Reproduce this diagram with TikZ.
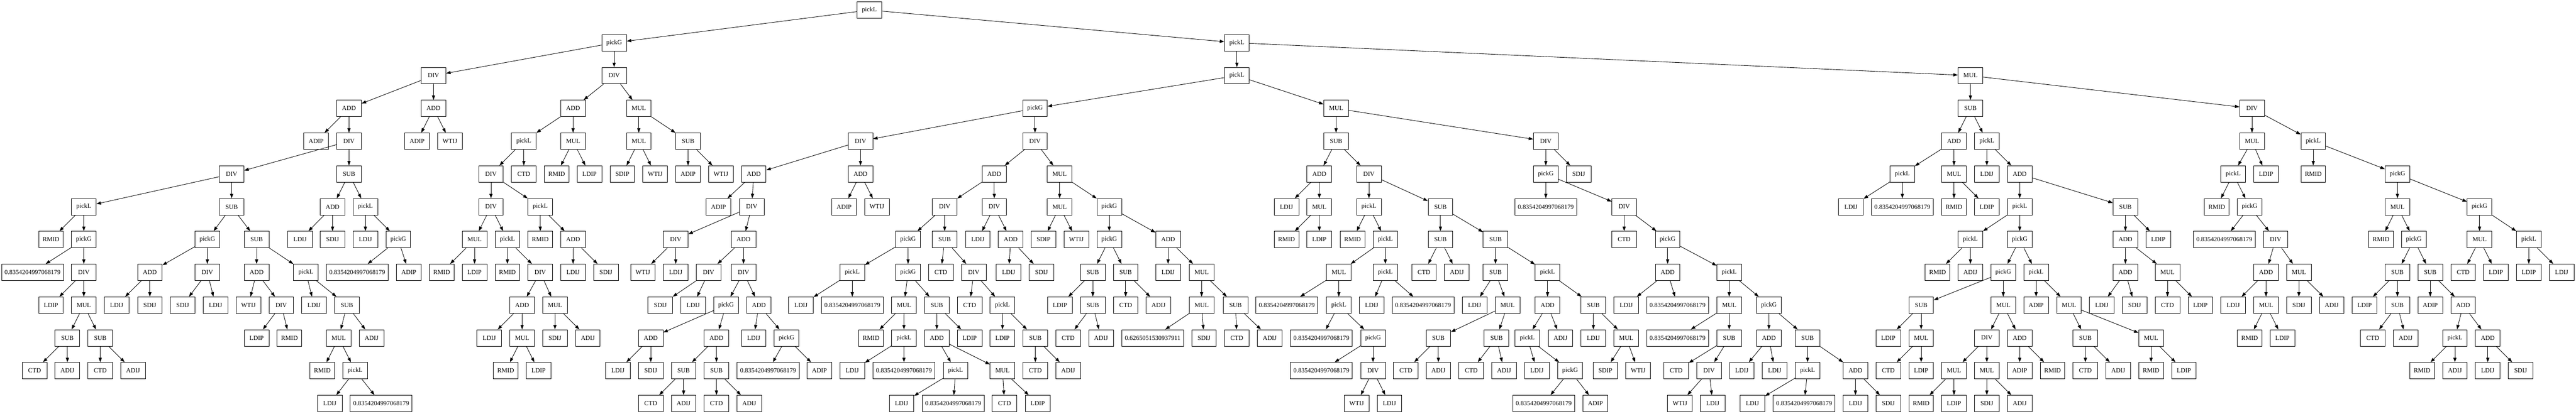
\documentclass[tikz,border=0pt]{standalone}
\usepackage{fontspec}
\setmainfont{Liberation Serif}
\usetikzlibrary{arrows.meta}
\tikzset{
op/.style={draw,rectangle,line width=1pt,minimum width=54pt,minimum height=36pt,inner xsep=6.6pt,inner ysep=0pt,font=\fontsize{14}{16}\selectfont},
arr/.style={-{Triangle[length=10pt,width=7pt]},line width=1pt},
}

\begin{document}
\begin{tikzpicture}[x=0.75pt,y=-72pt]
    \useasboundingbox (0,-0.3056) rectangle (7529,12.3056);

    % level 0 to 3
    \node[op] (n0x2541) at (2541,0) {pickL};
    \node[op] (n1x1795) at (1795,1) {pickG};
    \node[op] (n1x3615) at (3615,1) {pickL};
    \node[op] (n2x1267) at (1267,2) {DIV};
    \node[op] (n2x1795) at (1795,2) {DIV};
    \node[op] (n2x3615) at (3615,2) {pickL};
    \node[op] (n2x5759) at (5759,2) {MUL};
    \node[op] (n3x1020) at (1020,3) {ADD};
    \node[op] (n3x1267) at (1267,3) {ADD};
    \node[op] (n3x1675) at (1675,3) {ADD};
    \node[op] (n3x1867) at (1867,3) {MUL};
    \node[op] (n3x3025) at (3025,3) {pickG};
    \node[op] (n3x3905) at (3905,3) {MUL};
    \node[op] (n3x5759) at (5759,3) {SUB};
    \node[op] (n3x6582) at (6582,3) {DIV};

    % level 4
    \node[op] (n4x924) at (924,4) {ADIP};
    \node[op] (n4x1020) at (1020,4) {DIV};
    \node[op] (n4x1219) at (1219,4) {ADIP};
    \node[op] (n4x1315) at (1315,4) {WTIJ};
    \node[op] (n4x1531) at (1531,4) {pickL};
    \node[op] (n4x1675) at (1675,4) {MUL};
    \node[op] (n4x1867) at (1867,4) {MUL};
    \node[op] (n4x2011) at (2011,4) {SUB};
    \node[op] (n4x2515) at (2515,4) {DIV};
    \node[op] (n4x3025) at (3025,4) {DIV};
    \node[op] (n4x3905) at (3905,4) {SUB};
    \node[op] (n4x4518) at (4518,4) {DIV};
    \node[op] (n4x5711) at (5711,4) {ADD};
    \node[op] (n4x5807) at (5807,4) {pickL};
    \node[op] (n4x6582) at (6582,4) {MUL};
    \node[op] (n4x6761) at (6761,4) {pickL};

    % level 5
    \node[op] (n5x677) at (677,5) {DIV};
    \node[op] (n5x1020) at (1020,5) {SUB};
    \node[op] (n5x1435) at (1435,5) {DIV};
    \node[op] (n5x1531) at (1531,5) {CTD};
    \node[op] (n5x1627) at (1627,5) {RMID};
    \node[op] (n5x1723) at (1723,5) {LDIP};
    \node[op] (n5x1819) at (1819,5) {SDIP};
    \node[op] (n5x1915) at (1915,5) {WTIJ};
    \node[op] (n5x2011) at (2011,5) {ADIP};
    \node[op] (n5x2107) at (2107,5) {WTIJ};
    \node[op] (n5x2203) at (2203,5) {ADD};
    \node[op] (n5x2515) at (2515,5) {ADD};
    \node[op] (n5x2906) at (2906,5) {ADD};
    \node[op] (n5x3097) at (3097,5) {MUL};
    \node[op] (n5x3856) at (3856,5) {ADD};
    \node[op] (n5x4001) at (4001,5) {DIV};
    \node[op] (n5x4518) at (4518,5) {pickG};
    \node[op] (n5x4614) at (4614,5) {SDIJ};
    \node[op] (n5x5560) at (5560,5) {pickL};
    \node[op] (n5x5711) at (5711,5) {MUL};
    \node[op] (n5x5807) at (5807,5) {LDIJ};
    \node[op] (n5x5903) at (5903,5) {ADD};
    \node[op] (n5x6527) at (6527,5) {pickL};
    \node[op] (n5x6623) at (6623,5) {LDIP};
    \node[op] (n5x6761) at (6761,5) {RMID};
    \node[op] (n5x7007) at (7007,5) {pickG};

    % level 6
    \node[op] (n6x245) at (245,6) {pickL};
    \node[op] (n6x677) at (677,6) {SUB};
    \node[op] (n6x972) at (972,6) {ADD};
    \node[op] (n6x1068) at (1068,6) {pickL};
    \node[op] (n6x1435) at (1435,6) {DIV};
    \node[op] (n6x1579) at (1579,6) {pickL};
    \node[op] (n6x2100) at (2100,6) {ADIP};
    \node[op] (n6x2197) at (2197,6) {DIV};
    \node[op] (n6x2467) at (2467,6) {ADIP};
    \node[op] (n6x2563) at (2563,6) {WTIJ};
    \node[op] (n6x2761) at (2761,6) {DIV};
    \node[op] (n6x2906) at (2906,6) {DIV};
    \node[op] (n6x3097) at (3097,6) {MUL};
    \node[op] (n6x3242) at (3242,6) {pickG};
    \node[op] (n6x3760) at (3760,6) {LDIJ};
    \node[op] (n6x3856) at (3856,6) {MUL};
    \node[op] (n6x4001) at (4001,6) {pickL};
    \node[op] (n6x4210) at (4210,6) {SUB};
    \node[op] (n6x4518) at (4518,6) {0.8354204997068179};
    \node[op] (n6x4747) at (4747,6) {DIV};
    \node[op] (n6x5410) at (5410,6) {LDIJ};
    \node[op] (n6x5560) at (5560,6) {0.8354204997068179};
    \node[op] (n6x5711) at (5711,6) {RMID};
    \node[op] (n6x5807) at (5807,6) {LDIP};
    \node[op] (n6x5903) at (5903,6) {pickL};
    \node[op] (n6x6212) at (6212,6) {SUB};
    \node[op] (n6x6479) at (6479,6) {RMID};
    \node[op] (n6x6575) at (6575,6) {pickG};
    \node[op] (n6x7007) at (7007,6) {MUL};
    \node[op] (n6x7247) at (7247,6) {pickG};

    % level 7
    \node[op] (n7x149) at (149,7) {RMID};
    \node[op] (n7x245) at (245,7) {pickG};
    \node[op] (n7x606) at (606,7) {pickG};
    \node[op] (n7x750) at (750,7) {SUB};
    \node[op] (n7x877) at (877,7) {LDIJ};
    \node[op] (n7x972) at (972,7) {SDIJ};
    \node[op] (n7x1068) at (1068,7) {LDIJ};
    \node[op] (n7x1164) at (1164,7) {pickG};
    \node[op] (n7x1387) at (1387,7) {MUL};
    \node[op] (n7x1483) at (1483,7) {pickL};
    \node[op] (n7x1579) at (1579,7) {RMID};
    \node[op] (n7x1675) at (1675,7) {ADD};
    \node[op] (n7x1975) at (1975,7) {DIV};
    \node[op] (n7x2173) at (2173,7) {ADD};
    \node[op] (n7x2654) at (2654,7) {pickG};
    \node[op] (n7x2761) at (2761,7) {SUB};
    \node[op] (n7x2858) at (2858,7) {LDIJ};
    \node[op] (n7x2954) at (2954,7) {ADD};
    \node[op] (n7x3050) at (3050,7) {SDIP};
    \node[op] (n7x3146) at (3146,7) {WTIJ};
    \node[op] (n7x3242) at (3242,7) {pickG};
    \node[op] (n7x3414) at (3414,7) {ADD};
    \node[op] (n7x3760) at (3760,7) {RMID};
    \node[op] (n7x3856) at (3856,7) {LDIP};
    \node[op] (n7x3953) at (3953,7) {RMID};
    \node[op] (n7x4049) at (4049,7) {pickL};
    \node[op] (n7x4210) at (4210,7) {SUB};
    \node[op] (n7x4371) at (4371,7) {SUB};
    \node[op] (n7x4747) at (4747,7) {CTD};
    \node[op] (n7x4874) at (4874,7) {pickG};
    \node[op] (n7x5759) at (5759,7) {pickL};
    \node[op] (n7x5903) at (5903,7) {pickG};
    \node[op] (n7x6212) at (6212,7) {ADD};
    \node[op] (n7x6308) at (6308,7) {LDIP};
    \node[op] (n7x6501) at (6501,7) {0.8354204997068179};
    \node[op] (n7x6651) at (6651,7) {DIV};
    \node[op] (n7x6959) at (6959,7) {RMID};
    \node[op] (n7x7055) at (7055,7) {pickG};
    \node[op] (n7x7247) at (7247,7) {MUL};
    \node[op] (n7x7391) at (7391,7) {pickL};

    % level 8
    \node[op] (n8x95) at (95,8) {0.8354204997068179};
    \node[op] (n8x245) at (245,8) {DIV};
    \node[op] (n8x438) at (438,8) {ADD};
    \node[op] (n8x606) at (606,8) {DIV};
    \node[op] (n8x750) at (750,8) {ADD};
    \node[op] (n8x894) at (894,8) {pickL};
    \node[op] (n8x1044) at (1044,8) {0.8354204997068179};
    \node[op] (n8x1195) at (1195,8) {ADIP};
    \node[op] (n8x1291) at (1291,8) {RMID};
    \node[op] (n8x1387) at (1387,8) {LDIP};
    \node[op] (n8x1483) at (1483,8) {RMID};
    \node[op] (n8x1579) at (1579,8) {DIV};
    \node[op] (n8x1675) at (1675,8) {LDIJ};
    \node[op] (n8x1771) at (1771,8) {SDIJ};
    \node[op] (n8x1879) at (1879,8) {WTIJ};
    \node[op] (n8x1975) at (1975,8) {LDIJ};
    \node[op] (n8x2071) at (2071,8) {DIV};
    \node[op] (n8x2173) at (2173,8) {DIV};
    \node[op] (n8x2491) at (2491,8) {pickL};
    \node[op] (n8x2654) at (2654,8) {pickG};
    \node[op] (n8x2750) at (2750,8) {CTD};
    \node[op] (n8x2846) at (2846,8) {DIV};
    \node[op] (n8x2948) at (2948,8) {LDIJ};
    \node[op] (n8x3044) at (3044,8) {SDIJ};
    \node[op] (n8x3194) at (3194,8) {SUB};
    \node[op] (n8x3290) at (3290,8) {SUB};
    \node[op] (n8x3414) at (3414,8) {LDIJ};
    \node[op] (n8x3512) at (3512,8) {MUL};
    \node[op] (n8x3913) at (3913,8) {MUL};
    \node[op] (n8x4049) at (4049,8) {pickL};
    \node[op] (n8x4162) at (4162,8) {CTD};
    \node[op] (n8x4258) at (4258,8) {ADIJ};
    \node[op] (n8x4371) at (4371,8) {SUB};
    \node[op] (n8x4523) at (4523,8) {pickL};
    \node[op] (n8x4874) at (4874,8) {ADD};
    \node[op] (n8x5054) at (5054,8) {pickL};
    \node[op] (n8x5663) at (5663,8) {RMID};
    \node[op] (n8x5759) at (5759,8) {ADIJ};
    \node[op] (n8x5855) at (5855,8) {pickG};
    \node[op] (n8x5951) at (5951,8) {pickL};
    \node[op] (n8x6212) at (6212,8) {ADD};
    \node[op] (n8x6335) at (6335,8) {MUL};
    \node[op] (n8x6623) at (6623,8) {ADD};
    \node[op] (n8x6719) at (6719,8) {MUL};
    \node[op] (n8x7007) at (7007,8) {SUB};
    \node[op] (n8x7103) at (7103,8) {SUB};
    \node[op] (n8x7199) at (7199,8) {CTD};
    \node[op] (n8x7295) at (7295,8) {LDIP};
    \node[op] (n8x7391) at (7391,8) {LDIP};
    \node[op] (n8x7487) at (7487,8) {LDIJ};

    % level 9
    \node[op] (n9x149) at (149,9) {LDIP};
    \node[op] (n9x245) at (245,9) {MUL};
    \node[op] (n9x341) at (341,9) {LDIJ};
    \node[op] (n9x438) at (438,9) {SDIJ};
    \node[op] (n9x534) at (534,9) {SDIJ};
    \node[op] (n9x630) at (630,9) {LDIJ};
    \node[op] (n9x726) at (726,9) {WTIJ};
    \node[op] (n9x822) at (822,9) {DIV};
    \node[op] (n9x918) at (918,9) {LDIJ};
    \node[op] (n9x1014) at (1014,9) {SUB};
    \node[op] (n9x1526) at (1526,9) {ADD};
    \node[op] (n9x1622) at (1622,9) {MUL};
    \node[op] (n9x1930) at (1930,9) {SDIJ};
    \node[op] (n9x2026) at (2026,9) {LDIJ};
    \node[op] (n9x2122) at (2122,9) {pickG};
    \node[op] (n9x2218) at (2218,9) {ADD};
    \node[op] (n9x2341) at (2341,9) {LDIJ};
    \node[op] (n9x2491) at (2491,9) {0.8354204997068179};
    \node[op] (n9x2642) at (2642,9) {MUL};
    \node[op] (n9x2738) at (2738,9) {SUB};
    \node[op] (n9x2834) at (2834,9) {CTD};
    \node[op] (n9x2930) at (2930,9) {pickL};
    \node[op] (n9x3098) at (3098,9) {LDIP};
    \node[op] (n9x3194) at (3194,9) {SUB};
    \node[op] (n9x3290) at (3290,9) {CTD};
    \node[op] (n9x3386) at (3386,9) {ADIJ};
    \node[op] (n9x3512) at (3512,9) {MUL};
    \node[op] (n9x3611) at (3611,9) {SUB};
    \node[op] (n9x3761) at (3761,9) {0.8354204997068179};
    \node[op] (n9x3913) at (3913,9) {pickL};
    \node[op] (n9x4009) at (4009,9) {LDIJ};
    \node[op] (n9x4159) at (4159,9) {0.8354204997068179};
    \node[op] (n9x4310) at (4310,9) {LDIJ};
    \node[op] (n9x4406) at (4406,9) {MUL};
    \node[op] (n9x4523) at (4523,9) {ADD};
    \node[op] (n9x4657) at (4657,9) {SUB};
    \node[op] (n9x4753) at (4753,9) {LDIJ};
    \node[op] (n9x4903) at (4903,9) {0.8354204997068179};
    \node[op] (n9x5054) at (5054,9) {MUL};
    \node[op] (n9x5170) at (5170,9) {pickG};
    \node[op] (n9x5615) at (5615,9) {SUB};
    \node[op] (n9x5855) at (5855,9) {MUL};
    \node[op] (n9x5951) at (5951,9) {ADIP};
    \node[op] (n9x6047) at (6047,9) {MUL};
    \node[op] (n9x6143) at (6143,9) {LDIJ};
    \node[op] (n9x6239) at (6239,9) {SDIJ};
    \node[op] (n9x6335) at (6335,9) {CTD};
    \node[op] (n9x6431) at (6431,9) {LDIP};
    \node[op] (n9x6527) at (6527,9) {LDIJ};
    \node[op] (n9x6623) at (6623,9) {MUL};
    \node[op] (n9x6719) at (6719,9) {SDIJ};
    \node[op] (n9x6815) at (6815,9) {ADIJ};
    \node[op] (n9x6911) at (6911,9) {LDIP};
    \node[op] (n9x7007) at (7007,9) {SUB};
    \node[op] (n9x7103) at (7103,9) {ADIP};
    \node[op] (n9x7199) at (7199,9) {ADD};

    % level 10
    \node[op] (n10x197) at (197,10) {SUB};
    \node[op] (n10x293) at (293,10) {SUB};
    \node[op] (n10x750) at (750,10) {LDIP};
    \node[op] (n10x846) at (846,10) {RMID};
    \node[op] (n10x990) at (990,10) {MUL};
    \node[op] (n10x1086) at (1086,10) {ADIJ};
    \node[op] (n10x1430) at (1430,10) {LDIJ};
    \node[op] (n10x1526) at (1526,10) {MUL};
    \node[op] (n10x1622) at (1622,10) {SDIJ};
    \node[op] (n10x1718) at (1718,10) {ADIJ};
    \node[op] (n10x1902) at (1902,10) {ADD};
    \node[op] (n10x2094) at (2094,10) {ADD};
    \node[op] (n10x2203) at (2203,10) {LDIJ};
    \node[op] (n10x2299) at (2299,10) {pickG};
    \node[op] (n10x2546) at (2546,10) {RMID};
    \node[op] (n10x2642) at (2642,10) {pickL};
    \node[op] (n10x2738) at (2738,10) {ADD};
    \node[op] (n10x2834) at (2834,10) {LDIP};
    \node[op] (n10x2930) at (2930,10) {LDIP};
    \node[op] (n10x3026) at (3026,10) {SUB};
    \node[op] (n10x3122) at (3122,10) {CTD};
    \node[op] (n10x3218) at (3218,10) {ADIJ};
    \node[op] (n10x3369) at (3369,10) {0.6265051530937911};
    \node[op] (n10x3519) at (3519,10) {SDIJ};
    \node[op] (n10x3615) at (3615,10) {CTD};
    \node[op] (n10x3711) at (3711,10) {ADIJ};
    \node[op] (n10x3862) at (3862,10) {0.8354204997068179};
    \node[op] (n10x4013) at (4013,10) {pickG};
    \node[op] (n10x4204) at (4204,10) {SUB};
    \node[op] (n10x4374) at (4374,10) {SUB};
    \node[op] (n10x4464) at (4464,10) {pickL};
    \node[op] (n10x4561) at (4561,10) {ADIJ};
    \node[op] (n10x4657) at (4657,10) {LDIJ};
    \node[op] (n10x4753) at (4753,10) {MUL};
    \node[op] (n10x4903) at (4903,10) {0.8354204997068179};
    \node[op] (n10x5054) at (5054,10) {SUB};
    \node[op] (n10x5170) at (5170,10) {ADD};
    \node[op] (n10x5283) at (5283,10) {SUB};
    \node[op] (n10x5519) at (5519,10) {LDIP};
    \node[op] (n10x5615) at (5615,10) {MUL};
    \node[op] (n10x5807) at (5807,10) {DIV};
    \node[op] (n10x5903) at (5903,10) {ADD};
    \node[op] (n10x6095) at (6095,10) {SUB};
    \node[op] (n10x6287) at (6287,10) {MUL};
    \node[op] (n10x6575) at (6575,10) {RMID};
    \node[op] (n10x6671) at (6671,10) {LDIP};
    \node[op] (n10x6935) at (6935,10) {CTD};
    \node[op] (n10x7031) at (7031,10) {ADIJ};
    \node[op] (n10x7175) at (7175,10) {pickL};
    \node[op] (n10x7271) at (7271,10) {ADD};

    % level 11
    \node[op] (n11x101) at (101,11) {CTD};
    \node[op] (n11x197) at (197,11) {ADIJ};
    \node[op] (n11x293) at (293,11) {CTD};
    \node[op] (n11x389) at (389,11) {ADIJ};
    \node[op] (n11x942) at (942,11) {RMID};
    \node[op] (n11x1038) at (1038,11) {pickL};
    \node[op] (n11x1478) at (1478,11) {RMID};
    \node[op] (n11x1574) at (1574,11) {LDIP};
    \node[op] (n11x1806) at (1806,11) {LDIJ};
    \node[op] (n11x1902) at (1902,11) {SDIJ};
    \node[op] (n11x1998) at (1998,11) {SUB};
    \node[op] (n11x2094) at (2094,11) {SUB};
    \node[op] (n11x2245) at (2245,11) {0.8354204997068179};
    \node[op] (n11x2395) at (2395,11) {ADIP};
    \node[op] (n11x2491) at (2491,11) {LDIJ};
    \node[op] (n11x2642) at (2642,11) {0.8354204997068179};
    \node[op] (n11x2793) at (2793,11) {pickL};
    \node[op] (n11x2930) at (2930,11) {MUL};
    \node[op] (n11x3026) at (3026,11) {CTD};
    \node[op] (n11x3122) at (3122,11) {ADIJ};
    \node[op] (n11x3862) at (3862,11) {0.8354204997068179};
    \node[op] (n11x4013) at (4013,11) {DIV};
    \node[op] (n11x4109) at (4109,11) {CTD};
    \node[op] (n11x4204) at (4204,11) {ADIJ};
    \node[op] (n11x4300) at (4300,11) {CTD};
    \node[op] (n11x4396) at (4396,11) {ADIJ};
    \node[op] (n11x4492) at (4492,11) {LDIJ};
    \node[op] (n11x4589) at (4589,11) {pickG};
    \node[op] (n11x4692) at (4692,11) {SDIP};
    \node[op] (n11x4788) at (4788,11) {WTIJ};
    \node[op] (n11x4899) at (4899,11) {CTD};
    \node[op] (n11x4995) at (4995,11) {DIV};
    \node[op] (n11x5091) at (5091,11) {LDIJ};
    \node[op] (n11x5187) at (5187,11) {LDIJ};
    \node[op] (n11x5283) at (5283,11) {pickL};
    \node[op] (n11x5423) at (5423,11) {ADD};
    \node[op] (n11x5519) at (5519,11) {CTD};
    \node[op] (n11x5615) at (5615,11) {LDIP};
    \node[op] (n11x5711) at (5711,11) {MUL};
    \node[op] (n11x5807) at (5807,11) {MUL};
    \node[op] (n11x5903) at (5903,11) {ADIP};
    \node[op] (n11x5999) at (5999,11) {RMID};
    \node[op] (n11x6095) at (6095,11) {CTD};
    \node[op] (n11x6191) at (6191,11) {ADIJ};
    \node[op] (n11x6287) at (6287,11) {RMID};
    \node[op] (n11x6383) at (6383,11) {LDIP};
    \node[op] (n11x7079) at (7079,11) {RMID};
    \node[op] (n11x7175) at (7175,11) {ADIJ};
    \node[op] (n11x7271) at (7271,11) {LDIJ};
    \node[op] (n11x7367) at (7367,11) {SDIJ};

    % level 12
    \node[op] (n12x964) at (964,12) {LDIJ};
    \node[op] (n12x1114) at (1114,12) {0.8354204997068179};
    \node[op] (n12x1902) at (1902,12) {CTD};
    \node[op] (n12x1998) at (1998,12) {ADIJ};
    \node[op] (n12x2094) at (2094,12) {CTD};
    \node[op] (n12x2190) at (2190,12) {ADIJ};
    \node[op] (n12x2635) at (2635,12) {LDIJ};
    \node[op] (n12x2786) at (2786,12) {0.8354204997068179};
    \node[op] (n12x2936) at (2936,12) {CTD};
    \node[op] (n12x3033) at (3033,12) {LDIP};
    \node[op] (n12x3965) at (3965,12) {WTIJ};
    \node[op] (n12x4061) at (4061,12) {LDIJ};
    \node[op] (n12x4512) at (4512,12) {0.8354204997068179};
    \node[op] (n12x4663) at (4663,12) {ADIP};
    \node[op] (n12x4910) at (4910,12) {WTIJ};
    \node[op] (n12x5006) at (5006,12) {LDIJ};
    \node[op] (n12x5122) at (5122,12) {LDIJ};
    \node[op] (n12x5273) at (5273,12) {0.8354204997068179};
    \node[op] (n12x5423) at (5423,12) {LDIJ};
    \node[op] (n12x5519) at (5519,12) {SDIJ};
    \node[op] (n12x5615) at (5615,12) {RMID};
    \node[op] (n12x5711) at (5711,12) {LDIP};
    \node[op] (n12x5807) at (5807,12) {SDIJ};
    \node[op] (n12x5903) at (5903,12) {ADIJ};

    % edges
    \draw[arr] (n0x2541) -- (n1x1795); \draw[arr] (n0x2541) -- (n1x3615);
    \draw[arr] (n1x1795) -- (n2x1267); \draw[arr] (n1x1795) -- (n2x1795);
    \draw[arr] (n1x3615) -- (n2x3615); \draw[arr] (n1x3615) -- (n2x5759);
    \draw[arr] (n2x1267) -- (n3x1020); \draw[arr] (n2x1267) -- (n3x1267);
    \draw[arr] (n2x1795) -- (n3x1675); \draw[arr] (n2x1795) -- (n3x1867);
    \draw[arr] (n2x3615) -- (n3x3025); \draw[arr] (n2x3615) -- (n3x3905);
    \draw[arr] (n2x5759) -- (n3x5759); \draw[arr] (n2x5759) -- (n3x6582);
    \draw[arr] (n3x1020) -- (n4x924); \draw[arr] (n3x1020) -- (n4x1020);
    \draw[arr] (n3x1267) -- (n4x1219); \draw[arr] (n3x1267) -- (n4x1315);
    \draw[arr] (n3x1675) -- (n4x1531); \draw[arr] (n3x1675) -- (n4x1675);
    \draw[arr] (n3x1867) -- (n4x1867); \draw[arr] (n3x1867) -- (n4x2011);
    \draw[arr] (n3x3025) -- (n4x2515); \draw[arr] (n3x3025) -- (n4x3025);
    \draw[arr] (n3x3905) -- (n4x3905); \draw[arr] (n3x3905) -- (n4x4518);
    \draw[arr] (n3x5759) -- (n4x5711); \draw[arr] (n3x5759) -- (n4x5807);
    \draw[arr] (n3x6582) -- (n4x6582); \draw[arr] (n3x6582) -- (n4x6761);
    \draw[arr] (n4x1020) -- (n5x677); \draw[arr] (n4x1020) -- (n5x1020);
    \draw[arr] (n4x1531) -- (n5x1435); \draw[arr] (n4x1531) -- (n5x1531);
    \draw[arr] (n4x1675) -- (n5x1627); \draw[arr] (n4x1675) -- (n5x1723);
    \draw[arr] (n4x1867) -- (n5x1819); \draw[arr] (n4x1867) -- (n5x1915);
    \draw[arr] (n4x2011) -- (n5x2011); \draw[arr] (n4x2011) -- (n5x2107);
    \draw[arr] (n4x2515) -- (n5x2203); \draw[arr] (n4x2515) -- (n5x2515);
    \draw[arr] (n4x3025) -- (n5x2906); \draw[arr] (n4x3025) -- (n5x3097);
    \draw[arr] (n4x3905) -- (n5x3856); \draw[arr] (n4x3905) -- (n5x4001);
    \draw[arr] (n4x4518) -- (n5x4518); \draw[arr] (n4x4518) -- (n5x4614);
    \draw[arr] (n4x5711) -- (n5x5560); \draw[arr] (n4x5711) -- (n5x5711);
    \draw[arr] (n4x5807) -- (n5x5807); \draw[arr] (n4x5807) -- (n5x5903);
    \draw[arr] (n4x6582) -- (n5x6527); \draw[arr] (n4x6582) -- (n5x6623);
    \draw[arr] (n4x6761) -- (n5x6761); \draw[arr] (n4x6761) -- (n5x7007);
    \draw[arr] (n5x677) -- (n6x245); \draw[arr] (n5x677) -- (n6x677);
    \draw[arr] (n5x1020) -- (n6x972); \draw[arr] (n5x1020) -- (n6x1068);
    \draw[arr] (n5x1435) -- (n6x1435); \draw[arr] (n5x1435) -- (n6x1579);
    \draw[arr] (n5x2203) -- (n6x2100); \draw[arr] (n5x2203) -- (n6x2197);
    \draw[arr] (n5x2515) -- (n6x2467); \draw[arr] (n5x2515) -- (n6x2563);
    \draw[arr] (n5x2906) -- (n6x2761); \draw[arr] (n5x2906) -- (n6x2906);
    \draw[arr] (n5x3097) -- (n6x3097); \draw[arr] (n5x3097) -- (n6x3242);
    \draw[arr] (n5x3856) -- (n6x3760); \draw[arr] (n5x3856) -- (n6x3856);
    \draw[arr] (n5x4001) -- (n6x4001); \draw[arr] (n5x4001) -- (n6x4210);
    \draw[arr] (n5x4518) -- (n6x4518); \draw[arr] (n5x4518) -- (n6x4747);
    \draw[arr] (n5x5560) -- (n6x5410); \draw[arr] (n5x5560) -- (n6x5560);
    \draw[arr] (n5x5711) -- (n6x5711); \draw[arr] (n5x5711) -- (n6x5807);
    \draw[arr] (n5x5903) -- (n6x5903); \draw[arr] (n5x5903) -- (n6x6212);
    \draw[arr] (n5x6527) -- (n6x6479); \draw[arr] (n5x6527) -- (n6x6575);
    \draw[arr] (n5x7007) -- (n6x7007); \draw[arr] (n5x7007) -- (n6x7247);
    \draw[arr] (n6x245) -- (n7x149); \draw[arr] (n6x245) -- (n7x245);
    \draw[arr] (n6x677) -- (n7x606); \draw[arr] (n6x677) -- (n7x750);
    \draw[arr] (n6x972) -- (n7x877); \draw[arr] (n6x972) -- (n7x972);
    \draw[arr] (n6x1068) -- (n7x1068); \draw[arr] (n6x1068) -- (n7x1164);
    \draw[arr] (n6x1435) -- (n7x1387); \draw[arr] (n6x1435) -- (n7x1483);
    \draw[arr] (n6x1579) -- (n7x1579); \draw[arr] (n6x1579) -- (n7x1675);
    \draw[arr] (n6x2197) -- (n7x1975); \draw[arr] (n6x2197) -- (n7x2173);
    \draw[arr] (n6x2761) -- (n7x2654); \draw[arr] (n6x2761) -- (n7x2761);
    \draw[arr] (n6x2906) -- (n7x2858); \draw[arr] (n6x2906) -- (n7x2954);
    \draw[arr] (n6x3097) -- (n7x3050); \draw[arr] (n6x3097) -- (n7x3146);
    \draw[arr] (n6x3242) -- (n7x3242); \draw[arr] (n6x3242) -- (n7x3414);
    \draw[arr] (n6x3856) -- (n7x3760); \draw[arr] (n6x3856) -- (n7x3856);
    \draw[arr] (n6x4001) -- (n7x3953); \draw[arr] (n6x4001) -- (n7x4049);
    \draw[arr] (n6x4210) -- (n7x4210); \draw[arr] (n6x4210) -- (n7x4371);
    \draw[arr] (n6x4747) -- (n7x4747); \draw[arr] (n6x4747) -- (n7x4874);
    \draw[arr] (n6x5903) -- (n7x5759); \draw[arr] (n6x5903) -- (n7x5903);
    \draw[arr] (n6x6212) -- (n7x6212); \draw[arr] (n6x6212) -- (n7x6308);
    \draw[arr] (n6x6575) -- (n7x6501); \draw[arr] (n6x6575) -- (n7x6651);
    \draw[arr] (n6x7007) -- (n7x6959); \draw[arr] (n6x7007) -- (n7x7055);
    \draw[arr] (n6x7247) -- (n7x7247); \draw[arr] (n6x7247) -- (n7x7391);
    \draw[arr] (n7x245) -- (n8x95); \draw[arr] (n7x245) -- (n8x245);
    \draw[arr] (n7x606) -- (n8x438); \draw[arr] (n7x606) -- (n8x606);
    \draw[arr] (n7x750) -- (n8x750); \draw[arr] (n7x750) -- (n8x894);
    \draw[arr] (n7x1164) -- (n8x1044); \draw[arr] (n7x1164) -- (n8x1195);
    \draw[arr] (n7x1387) -- (n8x1291); \draw[arr] (n7x1387) -- (n8x1387);
    \draw[arr] (n7x1483) -- (n8x1483); \draw[arr] (n7x1483) -- (n8x1579);
    \draw[arr] (n7x1675) -- (n8x1675); \draw[arr] (n7x1675) -- (n8x1771);
    \draw[arr] (n7x1975) -- (n8x1879); \draw[arr] (n7x1975) -- (n8x1975);
    \draw[arr] (n7x2173) -- (n8x2071); \draw[arr] (n7x2173) -- (n8x2173);
    \draw[arr] (n7x2654) -- (n8x2491); \draw[arr] (n7x2654) -- (n8x2654);
    \draw[arr] (n7x2761) -- (n8x2750); \draw[arr] (n7x2761) -- (n8x2846);
    \draw[arr] (n7x2954) -- (n8x2948); \draw[arr] (n7x2954) -- (n8x3044);
    \draw[arr] (n7x3242) -- (n8x3194); \draw[arr] (n7x3242) -- (n8x3290);
    \draw[arr] (n7x3414) -- (n8x3414); \draw[arr] (n7x3414) -- (n8x3512);
    \draw[arr] (n7x4049) -- (n8x3913); \draw[arr] (n7x4049) -- (n8x4049);
    \draw[arr] (n7x4210) -- (n8x4162); \draw[arr] (n7x4210) -- (n8x4258);
    \draw[arr] (n7x4371) -- (n8x4371); \draw[arr] (n7x4371) -- (n8x4523);
    \draw[arr] (n7x4874) -- (n8x4874); \draw[arr] (n7x4874) -- (n8x5054);
    \draw[arr] (n7x5759) -- (n8x5663); \draw[arr] (n7x5759) -- (n8x5759);
    \draw[arr] (n7x5903) -- (n8x5855); \draw[arr] (n7x5903) -- (n8x5951);
    \draw[arr] (n7x6212) -- (n8x6212); \draw[arr] (n7x6212) -- (n8x6335);
    \draw[arr] (n7x6651) -- (n8x6623); \draw[arr] (n7x6651) -- (n8x6719);
    \draw[arr] (n7x7055) -- (n8x7007); \draw[arr] (n7x7055) -- (n8x7103);
    \draw[arr] (n7x7247) -- (n8x7199); \draw[arr] (n7x7247) -- (n8x7295);
    \draw[arr] (n7x7391) -- (n8x7391); \draw[arr] (n7x7391) -- (n8x7487);
    \draw[arr] (n8x245) -- (n9x149); \draw[arr] (n8x245) -- (n9x245);
    \draw[arr] (n8x438) -- (n9x341); \draw[arr] (n8x438) -- (n9x438);
    \draw[arr] (n8x606) -- (n9x534); \draw[arr] (n8x606) -- (n9x630);
    \draw[arr] (n8x750) -- (n9x726); \draw[arr] (n8x750) -- (n9x822);
    \draw[arr] (n8x894) -- (n9x918); \draw[arr] (n8x894) -- (n9x1014);
    \draw[arr] (n8x1579) -- (n9x1526); \draw[arr] (n8x1579) -- (n9x1622);
    \draw[arr] (n8x2071) -- (n9x1930); \draw[arr] (n8x2071) -- (n9x2026);
    \draw[arr] (n8x2173) -- (n9x2122); \draw[arr] (n8x2173) -- (n9x2218);
    \draw[arr] (n8x2491) -- (n9x2341); \draw[arr] (n8x2491) -- (n9x2491);
    \draw[arr] (n8x2654) -- (n9x2642); \draw[arr] (n8x2654) -- (n9x2738);
    \draw[arr] (n8x2846) -- (n9x2834); \draw[arr] (n8x2846) -- (n9x2930);
    \draw[arr] (n8x3194) -- (n9x3098); \draw[arr] (n8x3194) -- (n9x3194);
    \draw[arr] (n8x3290) -- (n9x3290); \draw[arr] (n8x3290) -- (n9x3386);
    \draw[arr] (n8x3512) -- (n9x3512); \draw[arr] (n8x3512) -- (n9x3611);
    \draw[arr] (n8x3913) -- (n9x3761); \draw[arr] (n8x3913) -- (n9x3913);
    \draw[arr] (n8x4049) -- (n9x4009); \draw[arr] (n8x4049) -- (n9x4159);
    \draw[arr] (n8x4371) -- (n9x4310); \draw[arr] (n8x4371) -- (n9x4406);
    \draw[arr] (n8x4523) -- (n9x4523); \draw[arr] (n8x4523) -- (n9x4657);
    \draw[arr] (n8x4874) -- (n9x4753); \draw[arr] (n8x4874) -- (n9x4903);
    \draw[arr] (n8x5054) -- (n9x5054); \draw[arr] (n8x5054) -- (n9x5170);
    \draw[arr] (n8x5855) -- (n9x5615); \draw[arr] (n8x5855) -- (n9x5855);
    \draw[arr] (n8x5951) -- (n9x5951); \draw[arr] (n8x5951) -- (n9x6047);
    \draw[arr] (n8x6212) -- (n9x6143); \draw[arr] (n8x6212) -- (n9x6239);
    \draw[arr] (n8x6335) -- (n9x6335); \draw[arr] (n8x6335) -- (n9x6431);
    \draw[arr] (n8x6623) -- (n9x6527); \draw[arr] (n8x6623) -- (n9x6623);
    \draw[arr] (n8x6719) -- (n9x6719); \draw[arr] (n8x6719) -- (n9x6815);
    \draw[arr] (n8x7007) -- (n9x6911); \draw[arr] (n8x7007) -- (n9x7007);
    \draw[arr] (n8x7103) -- (n9x7103); \draw[arr] (n8x7103) -- (n9x7199);
    \draw[arr] (n9x245) -- (n10x197); \draw[arr] (n9x245) -- (n10x293);
    \draw[arr] (n9x822) -- (n10x750); \draw[arr] (n9x822) -- (n10x846);
    \draw[arr] (n9x1014) -- (n10x990); \draw[arr] (n9x1014) -- (n10x1086);
    \draw[arr] (n9x1526) -- (n10x1430); \draw[arr] (n9x1526) -- (n10x1526);
    \draw[arr] (n9x1622) -- (n10x1622); \draw[arr] (n9x1622) -- (n10x1718);
    \draw[arr] (n9x2122) -- (n10x1902); \draw[arr] (n9x2122) -- (n10x2094);
    \draw[arr] (n9x2218) -- (n10x2203); \draw[arr] (n9x2218) -- (n10x2299);
    \draw[arr] (n9x2642) -- (n10x2546); \draw[arr] (n9x2642) -- (n10x2642);
    \draw[arr] (n9x2738) -- (n10x2738); \draw[arr] (n9x2738) -- (n10x2834);
    \draw[arr] (n9x2930) -- (n10x2930); \draw[arr] (n9x2930) -- (n10x3026);
    \draw[arr] (n9x3194) -- (n10x3122); \draw[arr] (n9x3194) -- (n10x3218);
    \draw[arr] (n9x3512) -- (n10x3369); \draw[arr] (n9x3512) -- (n10x3519);
    \draw[arr] (n9x3611) -- (n10x3615); \draw[arr] (n9x3611) -- (n10x3711);
    \draw[arr] (n9x3913) -- (n10x3862); \draw[arr] (n9x3913) -- (n10x4013);
    \draw[arr] (n9x4406) -- (n10x4204); \draw[arr] (n9x4406) -- (n10x4374);
    \draw[arr] (n9x4523) -- (n10x4464); \draw[arr] (n9x4523) -- (n10x4561);
    \draw[arr] (n9x4657) -- (n10x4657); \draw[arr] (n9x4657) -- (n10x4753);
    \draw[arr] (n9x5054) -- (n10x4903); \draw[arr] (n9x5054) -- (n10x5054);
    \draw[arr] (n9x5170) -- (n10x5170); \draw[arr] (n9x5170) -- (n10x5283);
    \draw[arr] (n9x5615) -- (n10x5519); \draw[arr] (n9x5615) -- (n10x5615);
    \draw[arr] (n9x5855) -- (n10x5807); \draw[arr] (n9x5855) -- (n10x5903);
    \draw[arr] (n9x6047) -- (n10x6095); \draw[arr] (n9x6047) -- (n10x6287);
    \draw[arr] (n9x6623) -- (n10x6575); \draw[arr] (n9x6623) -- (n10x6671);
    \draw[arr] (n9x7007) -- (n10x6935); \draw[arr] (n9x7007) -- (n10x7031);
    \draw[arr] (n9x7199) -- (n10x7175); \draw[arr] (n9x7199) -- (n10x7271);
    \draw[arr] (n10x197) -- (n11x101); \draw[arr] (n10x197) -- (n11x197);
    \draw[arr] (n10x293) -- (n11x293); \draw[arr] (n10x293) -- (n11x389);
    \draw[arr] (n10x990) -- (n11x942); \draw[arr] (n10x990) -- (n11x1038);
    \draw[arr] (n10x1526) -- (n11x1478); \draw[arr] (n10x1526) -- (n11x1574);
    \draw[arr] (n10x1902) -- (n11x1806); \draw[arr] (n10x1902) -- (n11x1902);
    \draw[arr] (n10x2094) -- (n11x1998); \draw[arr] (n10x2094) -- (n11x2094);
    \draw[arr] (n10x2299) -- (n11x2245); \draw[arr] (n10x2299) -- (n11x2395);
    \draw[arr] (n10x2642) -- (n11x2491); \draw[arr] (n10x2642) -- (n11x2642);
    \draw[arr] (n10x2738) -- (n11x2793); \draw[arr] (n10x2738) -- (n11x2930);
    \draw[arr] (n10x3026) -- (n11x3026); \draw[arr] (n10x3026) -- (n11x3122);
    \draw[arr] (n10x4013) -- (n11x3862); \draw[arr] (n10x4013) -- (n11x4013);
    \draw[arr] (n10x4204) -- (n11x4109); \draw[arr] (n10x4204) -- (n11x4204);
    \draw[arr] (n10x4374) -- (n11x4300); \draw[arr] (n10x4374) -- (n11x4396);
    \draw[arr] (n10x4464) -- (n11x4492); \draw[arr] (n10x4464) -- (n11x4589);
    \draw[arr] (n10x4753) -- (n11x4692); \draw[arr] (n10x4753) -- (n11x4788);
    \draw[arr] (n10x5054) -- (n11x4899); \draw[arr] (n10x5054) -- (n11x4995);
    \draw[arr] (n10x5170) -- (n11x5091); \draw[arr] (n10x5170) -- (n11x5187);
    \draw[arr] (n10x5283) -- (n11x5283); \draw[arr] (n10x5283) -- (n11x5423);
    \draw[arr] (n10x5615) -- (n11x5519); \draw[arr] (n10x5615) -- (n11x5615);
    \draw[arr] (n10x5807) -- (n11x5711); \draw[arr] (n10x5807) -- (n11x5807);
    \draw[arr] (n10x5903) -- (n11x5903); \draw[arr] (n10x5903) -- (n11x5999);
    \draw[arr] (n10x6095) -- (n11x6095); \draw[arr] (n10x6095) -- (n11x6191);
    \draw[arr] (n10x6287) -- (n11x6287); \draw[arr] (n10x6287) -- (n11x6383);
    \draw[arr] (n10x7175) -- (n11x7079); \draw[arr] (n10x7175) -- (n11x7175);
    \draw[arr] (n10x7271) -- (n11x7271); \draw[arr] (n10x7271) -- (n11x7367);
    \draw[arr] (n11x1038) -- (n12x964); \draw[arr] (n11x1038) -- (n12x1114);
    \draw[arr] (n11x1998) -- (n12x1902); \draw[arr] (n11x1998) -- (n12x1998);
    \draw[arr] (n11x2094) -- (n12x2094); \draw[arr] (n11x2094) -- (n12x2190);
    \draw[arr] (n11x2793) -- (n12x2635); \draw[arr] (n11x2793) -- (n12x2786);
    \draw[arr] (n11x2930) -- (n12x2936); \draw[arr] (n11x2930) -- (n12x3033);
    \draw[arr] (n11x4013) -- (n12x3965); \draw[arr] (n11x4013) -- (n12x4061);
    \draw[arr] (n11x4589) -- (n12x4512); \draw[arr] (n11x4589) -- (n12x4663);
    \draw[arr] (n11x4995) -- (n12x4910); \draw[arr] (n11x4995) -- (n12x5006);
    \draw[arr] (n11x5283) -- (n12x5122); \draw[arr] (n11x5283) -- (n12x5273);
    \draw[arr] (n11x5423) -- (n12x5423); \draw[arr] (n11x5423) -- (n12x5519);
    \draw[arr] (n11x5711) -- (n12x5615); \draw[arr] (n11x5711) -- (n12x5711);
    \draw[arr] (n11x5807) -- (n12x5807); \draw[arr] (n11x5807) -- (n12x5903);
\end{tikzpicture}
\end{document}
